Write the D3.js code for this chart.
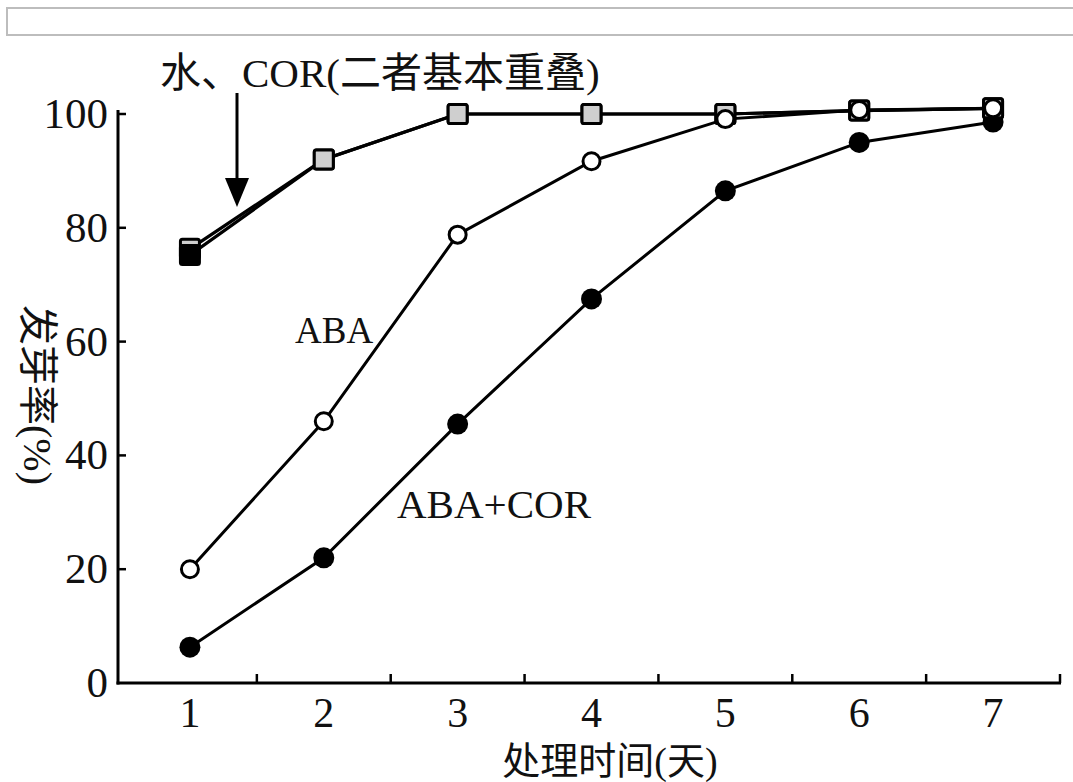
<!DOCTYPE html>
<html>
<head>
<meta charset="utf-8">
<script src="https://cdn.jsdelivr.net/npm/d3@7"></script>
<style>
  html, body { margin: 0; padding: 0; background: #fff; }
  svg { display: block; }
  text { font-family: "Liberation Serif", "Noto Sans CJK SC", serif; fill: #111; }
</style>
</head>
<body>
<svg id="chart" width="1073" height="782"></svg>
<script>
// Treatment days
const days = [1, 2, 3, 4, 5, 6, 7];
// Germination rate (%) for each treatment
const waterValues  = [75.2, 92, 100, 100, 100, 100.6, 101];
const corValues    = [76.3, 92, 100, 100, 100, 100.6, 101];
const abaValues    = [20, 46, 78.8, 91.7, 99.1, 100.7, 101];
const abaCorValues = [6.3, 22, 45.5, 67.5, 86.5, 95, 98.6];
const yTickValues  = [0, 20, 40, 60, 80, 100];

const svg = d3.select("#chart");

// Header frame
svg.append("rect")
  .attr("x", 7).attr("y", 8).attr("width", 1090).attr("height", 27)
  .attr("fill", "#fff").attr("stroke", "#bdbdbd").attr("stroke-width", 2);

const x = d3.scaleBand().domain(days).range([123, 1060]).paddingInner(0).paddingOuter(0);
const cx = d => x(d) + x.bandwidth() / 2;
const y = d3.scaleLinear().domain([0, 100]).range([683, 114]);

// Axes
const axisG = svg.append("g");
axisG.append("line")
  .attr("x1", 118).attr("x2", 118).attr("y1", 110).attr("y2", 684.5)
  .attr("stroke", "#000").attr("stroke-width", 3);
axisG.append("line")
  .attr("x1", 116.5).attr("x2", 1061).attr("y1", 683).attr("y2", 683)
  .attr("stroke", "#000").attr("stroke-width", 3);

// y ticks (inward) and labels
axisG.selectAll(".ytick").data(yTickValues.filter(v => v > 0)).join("line")
  .attr("x1", 118).attr("x2", 126)
  .attr("y1", d => y(d)).attr("y2", d => y(d))
  .attr("stroke", "#000").attr("stroke-width", 2.5);
axisG.selectAll(".ylab").data(yTickValues).join("text")
  .attr("x", 108).attr("y", d => y(d) + 14)
  .attr("text-anchor", "end")
  .attr("font-size", 43)
  .text(d => d);

// x ticks at band boundaries (inward) and labels at band centres
const boundaries = days.slice(1).map(d => x(d)).concat([x.range()[1]]);
axisG.selectAll(".xtick").data(boundaries).join("line")
  .attr("x1", d => d).attr("x2", d => d)
  .attr("y1", 683).attr("y2", 674)
  .attr("stroke", "#000").attr("stroke-width", 2.5);
axisG.selectAll(".xlab").data(days).join("text")
  .attr("x", d => cx(d)).attr("y", 727)
  .attr("text-anchor", "middle")
  .attr("font-size", 42)
  .text(d => d);

// Axis titles
svg.append("text")
  .attr("x", 610).attr("y", 774)
  .attr("text-anchor", "middle")
  .attr("font-size", 38)
  .text("处理时间(天)");
svg.append("text")
  .attr("transform", "translate(24,395) rotate(90)")
  .attr("text-anchor", "middle")
  .attr("font-size", 40)
  .text("发芽率(%)");

const line = d3.line().x(d => cx(d.day)).y(d => y(d.value));
const toPoints = vals => days.map((d, i) => ({ day: d, value: vals[i] }));

// ABA+COR: filled circles
const abaCorPts = toPoints(abaCorValues);
svg.append("path").datum(abaCorPts)
  .attr("d", line).attr("fill", "none").attr("stroke", "#000").attr("stroke-width", 3);
svg.selectAll(".abacor").data(abaCorPts).join("circle")
  .attr("cx", d => cx(d.day)).attr("cy", d => y(d.value)).attr("r", 10.5)
  .attr("fill", "#000");

// Water and COR: squares
const waterPts = toPoints(waterValues).map(p => ({ ...p, series: 0, fill: "#000" }));
const corPts = toPoints(corValues).map(p => ({ ...p, series: 1, fill: "#cfcfcf" }));
[corPts, waterPts].forEach(pts => {
  svg.append("path").datum(pts)
    .attr("d", line).attr("fill", "none").attr("stroke", "#000").attr("stroke-width", 3.2);
});
// lower markers are drawn on top
const squares = waterPts.concat(corPts)
  .sort((a, b) => (b.value - a.value) || (a.series - b.series));
const sq = 19;
svg.selectAll(".sq").data(squares).join("rect")
  .attr("x", d => cx(d.day) - sq / 2).attr("y", d => y(d.value) - sq / 2)
  .attr("width", sq).attr("height", sq).attr("rx", 2)
  .attr("fill", d => d.fill).attr("stroke", "#000").attr("stroke-width", 3);

// ABA: open circles
const abaPts = toPoints(abaValues);
svg.append("path").datum(abaPts)
  .attr("d", line).attr("fill", "none").attr("stroke", "#000").attr("stroke-width", 3);
svg.selectAll(".aba").data(abaPts).join("circle")
  .attr("cx", d => cx(d.day)).attr("cy", d => y(d.value)).attr("r", 8.5)
  .attr("fill", "#fff").attr("stroke", "#000").attr("stroke-width", 3);

// Series labels
svg.append("text").attr("x", 295).attr("y", 343).attr("font-size", 37).text("ABA");
svg.append("text").attr("x", 397).attr("y", 518).attr("font-size", 41).text("ABA+COR");

// Annotation with arrow
svg.append("text").attr("x", 160).attr("y", 87).attr("font-size", 41).text("水、COR(二者基本重叠)");
svg.append("line")
  .attr("x1", 237).attr("x2", 237).attr("y1", 93).attr("y2", 185)
  .attr("stroke", "#000").attr("stroke-width", 3);
svg.append("path")
  .attr("d", "M225,178 L249,178 L237,207 Z")
  .attr("fill", "#000");
</script>
</body>
</html>
